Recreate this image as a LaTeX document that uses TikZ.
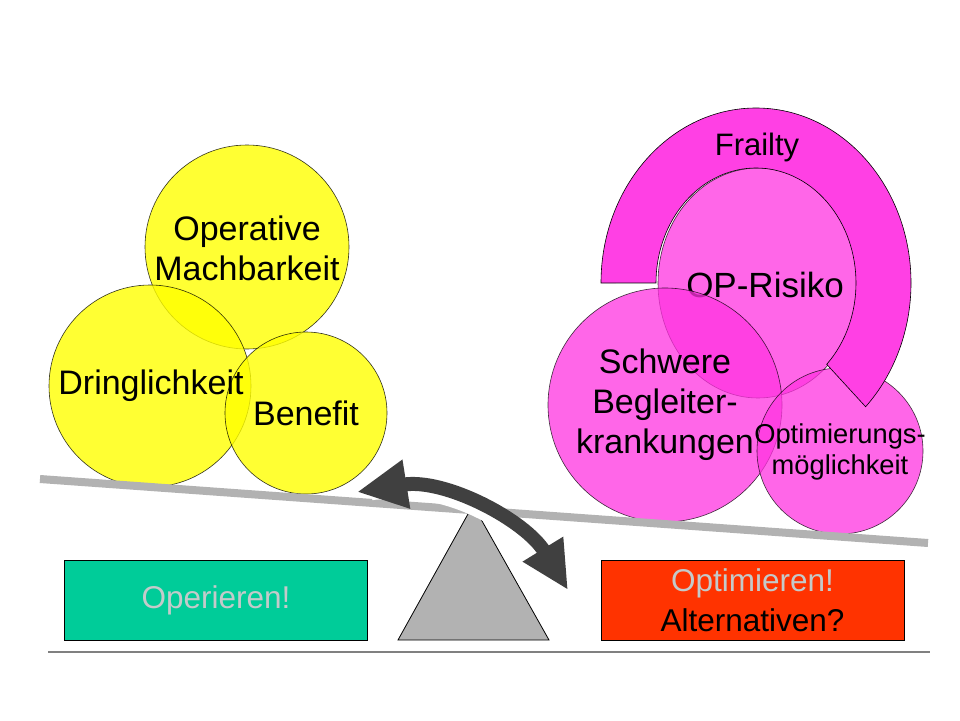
\documentclass[tikz,border=0pt]{standalone}
\usepackage{fontspec}
\setmainfont{Liberation Sans}
\usetikzlibrary{arrows.meta}
\definecolor{ballyel}{RGB}{255,255,0}
\definecolor{ballpink}{RGB}{255,51,224}
\definecolor{frailpink}{RGB}{255,64,228}
\definecolor{opgreen}{RGB}{0,204,153}
\definecolor{optred}{RGB}{255,51,0}
\definecolor{paletxt}{RGB}{196,202,202}
\definecolor{beamgray}{RGB}{178,178,178}
\definecolor{swinggray}{RGB}{64,64,64}
\tikzset{
  yelball/.style={fill=ballyel, draw=black, opacity=0.8, line width=0.6pt},
  pinkball/.style={fill=ballpink, draw=black, opacity=0.75, line width=0.6pt},
  bigtxt/.style={font=\fontsize{34}{40}\selectfont, align=center, inner sep=0pt},
  smalltxt/.style={font=\fontsize{27.3}{31}\selectfont, align=center, inner sep=0pt},
  resultbox/.style={draw=black, line width=0.8pt, minimum width=303pt, minimum height=80pt,
    inner sep=0pt, align=center, font=\fontsize{31.5}{40}\selectfont},
}
\begin{document}
\begin{tikzpicture}[x=1pt, y=-1pt]
        \useasboundingbox (0,0) rectangle (960,720);

        \filldraw[yelball] (247,247) circle[radius=102];
        \node[bigtxt] (machbar) at (247,248) {Operative\\Machbarkeit};
        \filldraw[yelball] (150,386) circle[radius=101];
        \filldraw[yelball] (306,413) circle[radius=81];
        \node[bigtxt] (dringl) at (151,386) {Dringlichkeit};
        \node[bigtxt] (benefit) at (306,413) {Benefit};

        \filldraw[pinkball] (758,283) ellipse[x radius=100, y radius=115];
        \node[bigtxt, font=\fontsize{35}{40}\selectfont] (oprisk) at (765,285) {OP-Risiko};
        \filldraw[pinkball] (665,405) circle[radius=117];
        \filldraw[pinkball] (840,451) circle[radius=83];
        \node[bigtxt] (begleit) at (665,405) {Schwere\\Begleiter-\\krankungen};
        \node[smalltxt] (optim) at (840,452) {Optimierungs-\\möglichkeit};

        \filldraw[fill=frailpink, draw=black, line width=0.6pt] (601,283)
            arc[start angle=180, end angle=405, x radius=155, y radius=175]
            -- (826.7,364.3)
            arc[start angle=405, end angle=180, x radius=100, y radius=115] -- cycle;
        \node[bigtxt, font=\fontsize{31}{36}\selectfont] (frailty) at (757,147) {Frailty};

        \filldraw[fill=beamgray, draw=black, line width=0.8pt] (473,505) -- (549,640) -- (398,640) -- cycle;
        \coordinate (beamL) at (40,479);
        \coordinate (beamR) at (928,543);
        \draw[beamgray, line width=8pt] (beamL) -- (beamR);

        \coordinate (swingL) at (357,492);
        \coordinate (swingR) at (568,590);
        \draw[swinggray, line width=14pt,
            preaction={draw=white, line width=21pt, shorten <=14pt, shorten >=14pt, -},
            {Triangle[length=50pt,width=46pt]}-{Triangle[length=48pt,width=44pt]}]
            (swingL) .. controls (445,478) and (525,520) .. (swingR);

        \node[resultbox, fill=opgreen, text=paletxt] (operieren) at (216,600) {Operieren!};
        \node[resultbox, fill=optred] (optimieren) at (752.5,600.5) {\textcolor{paletxt}{Optimieren!}\\Alternativen?};

        \coordinate (baseL) at (48,652);
        \coordinate (baseR) at (930,652);
        \draw[gray, line width=1.5pt] (baseL) -- (baseR);
    \end{tikzpicture}
\end{document}
